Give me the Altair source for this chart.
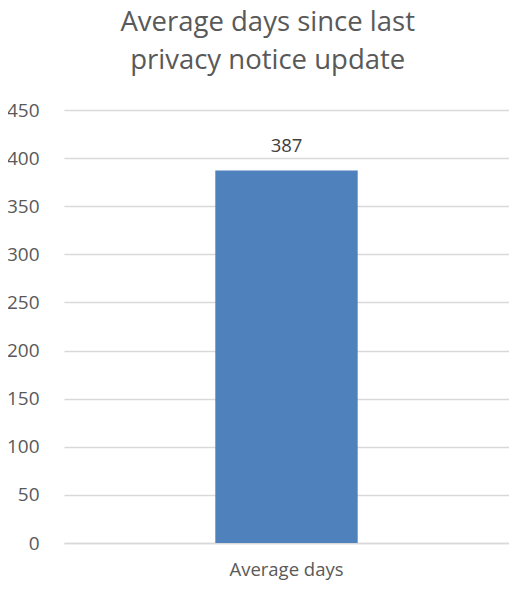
import altair as alt
import pandas as pd

categories = ["Average days"]
values = [387]
title_lines = ["Average days since last", "privacy notice update"]
y_ticks = [0, 50, 100, 150, 200, 250, 300, 350, 400, 450]

df = pd.DataFrame({"category": categories, "value": values})

FONT = "Open Sans"
GREY = "#595959"

base = alt.Chart(df).encode(
    x=alt.X("category:N", title=None,
            scale=alt.Scale(paddingInner=0.68, paddingOuter=0.34),
            axis=alt.Axis(labelAngle=0, labelFont=FONT, labelFontSize=18.5,
                          labelColor=GREY, ticks=False, domainColor="#d9d9d9",
                          domainWidth=1.3, labelPadding=17, grid=False)),
)

bars = base.mark_bar(color="#4f81bd").encode(
    y=alt.Y("value:Q", title=None,
            scale=alt.Scale(domain=[0, 450], nice=False),
            axis=alt.Axis(values=y_ticks, labelFont=FONT, labelFontSize=19,
                          labelColor=GREY, ticks=False, domain=False,
                          gridColor="#d9d9d9", gridWidth=1.3, labelPadding=25))
)

labels = base.mark_text(font=FONT, fontSize=18.5, color="#404040", dy=-25).encode(
    y=alt.Y("value:Q"),
    text=alt.Text("value:Q")
)

chart = (bars + labels).properties(
    width=445,
    height=433,
    title=alt.Title(title_lines, font=FONT, fontSize=27.5, fontWeight="normal",
                    color=GREY, lineHeight=38, anchor="middle", frame="bounds",
                    offset=27, dx=10),
    autosize=alt.AutoSizeParams(type="none"),
    padding={"left": 56, "top": 102, "right": 0, "bottom": 39},
).configure_view(stroke=None)

chart.save("out.html", embed_options={"renderer": "svg", "actions": False})
